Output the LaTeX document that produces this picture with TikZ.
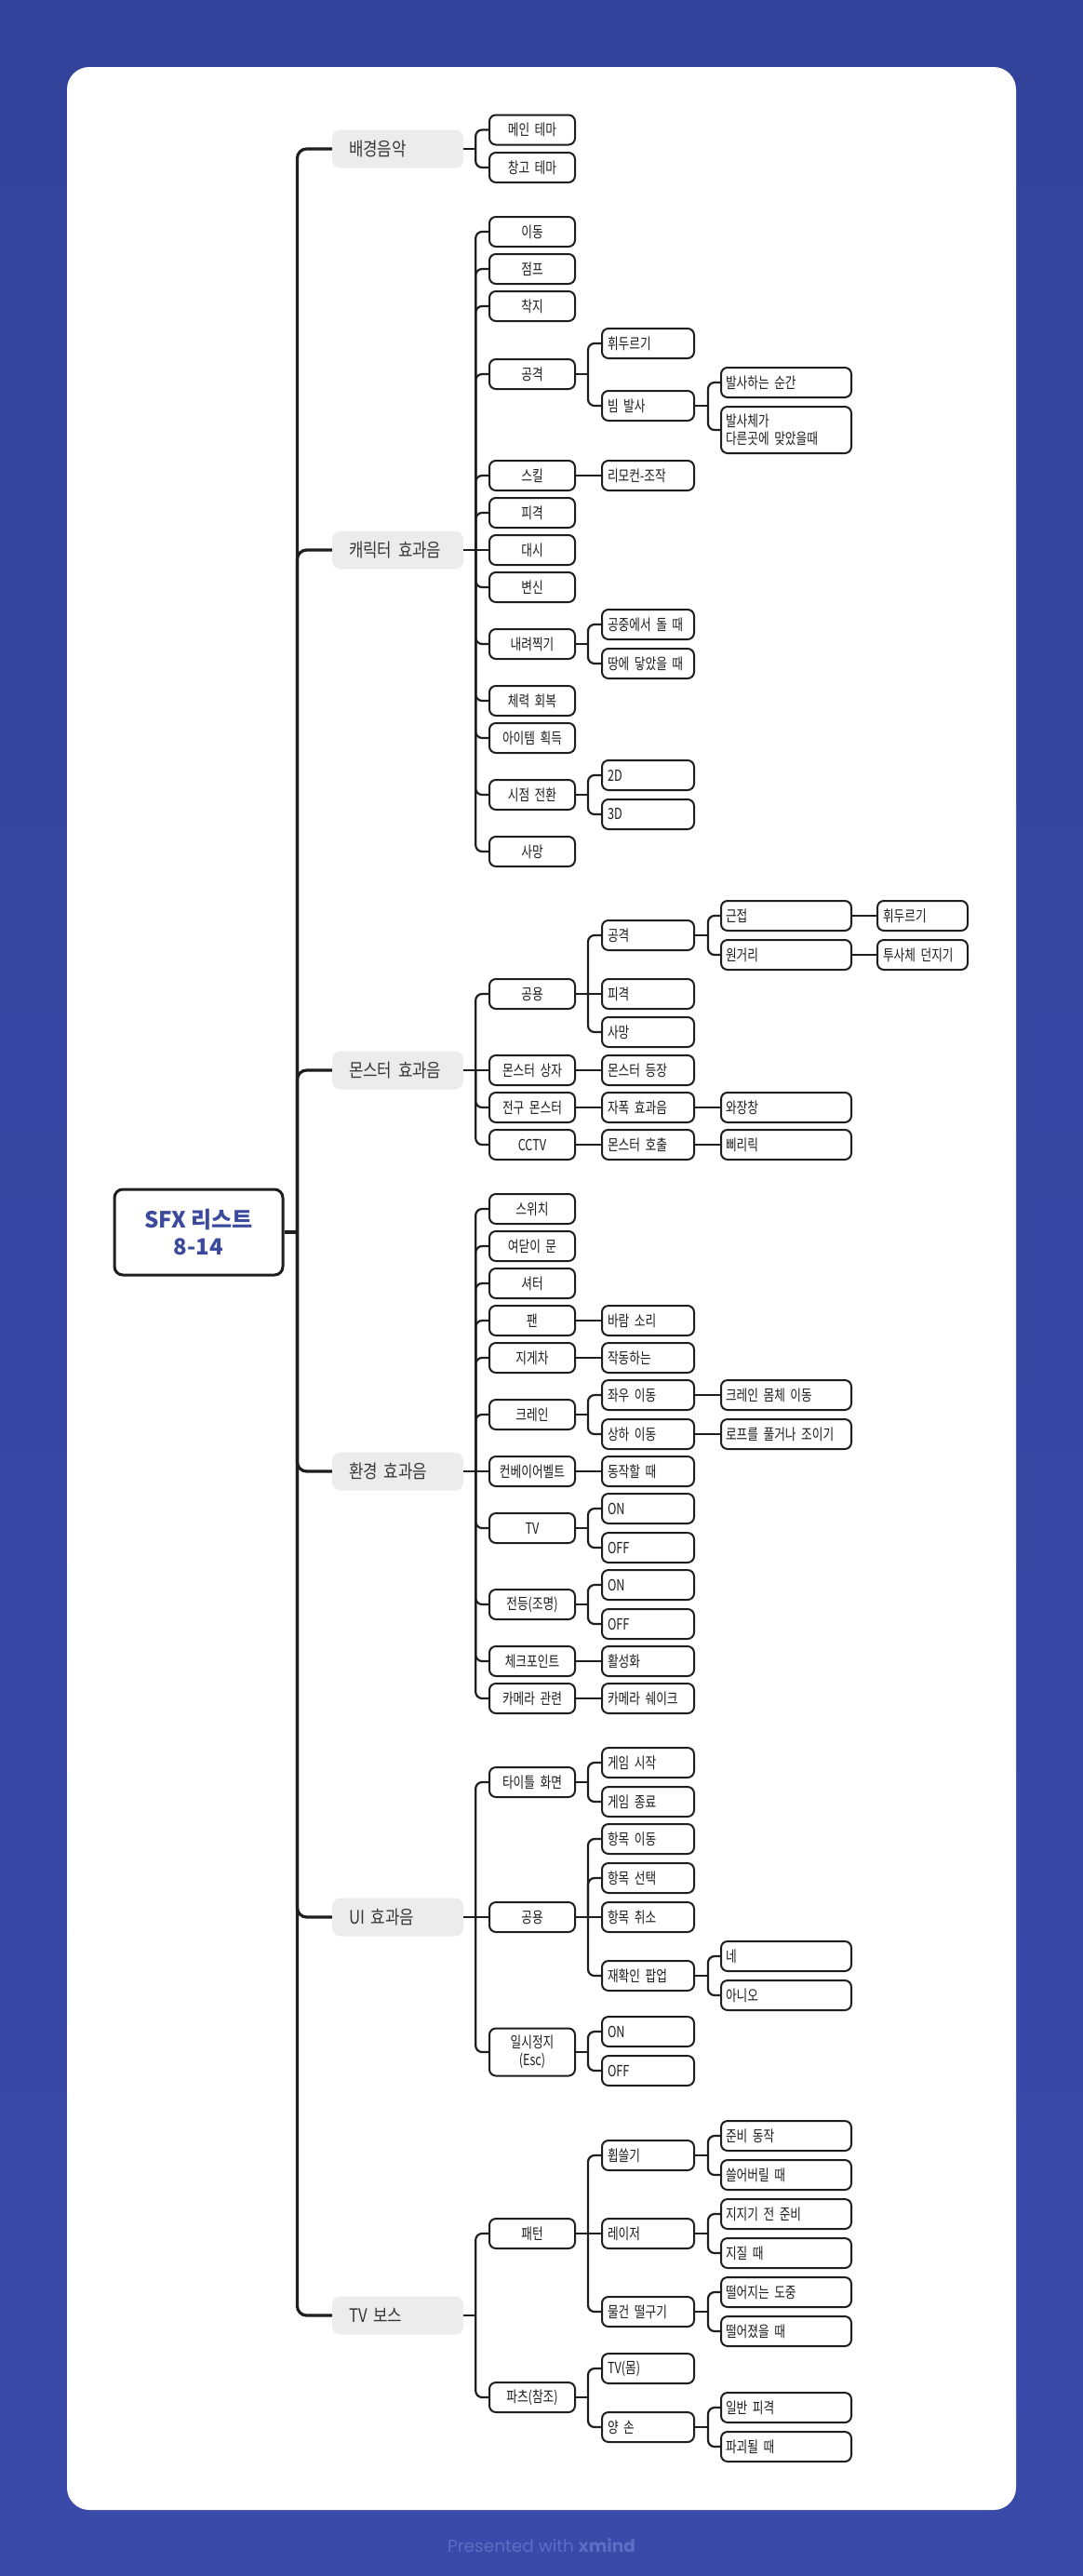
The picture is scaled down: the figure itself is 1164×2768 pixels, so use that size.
\documentclass[tikz,border=0pt]{standalone}
\usepackage{fontspec}
\setmainfont{Noto Sans CJK KR}[FakeStretch=0.77]
\newfontfamily\lonefont{Noto Sans CJK KR}[FakeStretch=0.84]
\newfontfamily\rootfont{Noto Sans CJK KR}
\newfontfamily\footfont{Poppins}
\definecolor{bgtop}{HTML}{33429B}
\definecolor{bgbot}{HTML}{3A4AA9}
\definecolor{ink}{HTML}{1E1E1E}
\definecolor{lonefill}{HTML}{ECECEC}
\definecolor{rootblue}{HTML}{3B4A9C}
\definecolor{footcol}{HTML}{5C6DC5}
\newcommand\stub[2]{\draw[conn] (#1.east) -- ++(#2,0) coordinate (#1-j);}
\newcommand\curv[2]{\foreach \ch in {#2}{\draw[conn,rounded corners=7pt] (#1-j) |- (\ch.west);}}
\newcommand\strt[2]{\draw[conn] (#1-j) -- (#2.west);}
\begin{document}
\begin{tikzpicture}[x=1pt,y=-1pt,
  bx/.style={draw=ink, line width=2pt, rounded corners=7pt, fill=white, minimum height=32pt, inner ysep=3pt, text=ink, font=\fontsize{16.5}{19}\selectfont},
  l2/.style={bx, text width=80pt, inner xsep=6pt, align=center},
  l3/.style={bx, text width=87pt, inner xsep=6pt, align=left},
  l4/.style={bx, text width=130pt, inner xsep=5pt, align=left},
  l5/.style={bx, text width=85pt, inner xsep=6pt, align=left},
  lone/.style={fill=lonefill, rounded corners=9pt, minimum height=41pt, text width=105pt, inner xsep=18pt, align=left, text=ink!88, font=\lonefont\fontsize{20}{22}\selectfont},
  rootbox/.style={draw=ink, line width=3pt, rounded corners=9pt, fill=white, minimum width=181pt, minimum height=92pt, align=center, text=rootblue, font=\rootfont\bfseries\fontsize{24}{29}\selectfont},
  conn/.style={draw=ink, line width=2.2pt},
  mainconn/.style={draw=ink, line width=3.2pt}]
\useasboundingbox (0,0) rectangle (1164,2768);
\shade[top color=bgtop, bottom color=bgbot] (0,0) rectangle (1164,2768);
\fill[white, rounded corners=24pt] (72,72) rectangle (1092,2697);
\node[font=\footfont\fontsize{18.5}{20}\selectfont, text=footcol] (foot) at (582,2735) {Presented with \textbf{xmind}};

% root
\node[rootbox] (root) at (213.5,1324) {SFX 리스트\\8-14};

% level 1
\node[lone] (a) at (427.5,160) {\mbox{배경음악}};
\node[lone] (b) at (427.5,591) {\mbox{캐릭터 효과음}};
\node[lone] (c) at (427.5,1150) {\mbox{몬스터 효과음}};
\node[lone] (d) at (427.5,1581) {\mbox{환경 효과음}};
\node[lone] (e) at (427.5,2060) {\mbox{UI 효과음}};
\node[lone] (f) at (427.5,2488) {\mbox{TV 보스}};

% A
\node[l2] (a1) at (572,139.5) {메인 테마};
\node[l2] (a2) at (572,180) {창고 테마};

% B
\node[l2] (b1) at (572,249) {이동};
\node[l2] (b2) at (572,289) {점프};
\node[l2] (b3) at (572,329) {착지};
\node[l2] (b4) at (572,402) {공격};
\node[l2] (b5) at (572,511) {스킬};
\node[l2] (b6) at (572,551) {피격};
\node[l2] (b7) at (572,591) {대시};
\node[l2] (b8) at (572,631) {변신};
\node[l2] (b9) at (572,692) {내려찍기};
\node[l2] (b10) at (572,753) {체력 회복};
\node[l2] (b11) at (572,793) {아이템 획득};
\node[l2] (b12) at (572,854) {시점 전환};
\node[l2] (b13) at (572,915) {사망};
\node[l3] (b4a) at (696.5,369) {휘두르기};
\node[l3] (b4b) at (696.5,436) {빔 발사};
\node[l3] (b5a) at (696.5,511) {리모컨-조작};
\node[l3] (b9a) at (696.5,671) {\mbox{공중에서 돌 때}};
\node[l3] (b9b) at (696.5,713) {\mbox{땅에 닿았을 때}};
\node[l3] (b12a) at (696.5,833) {2D};
\node[l3] (b12b) at (696.5,875) {3D};
\node[l4] (b4b1) at (845,411) {발사하는 순간};
\node[l4, minimum height=50pt] (b4b2) at (845,462) {발사체가\\\mbox{다른곳에 맞았을때}};

% C
\node[l2] (c1) at (572,1068) {공용};
\node[l2] (c2) at (572,1150) {몬스터 상자};
\node[l2] (c3) at (572,1190) {전구 몬스터};
\node[l2] (c4) at (572,1230) {CCTV};
\node[l3] (c1a) at (696.5,1005) {공격};
\node[l3] (c1b) at (696.5,1068) {피격};
\node[l3] (c1c) at (696.5,1109) {사망};
\node[l3] (c2a) at (696.5,1150) {몬스터 등장};
\node[l3] (c3a) at (696.5,1190) {자폭 효과음};
\node[l3] (c4a) at (696.5,1230) {몬스터 호출};
\node[l4] (c1a1) at (845,984) {근접};
\node[l4] (c1a2) at (845,1026) {원거리};
\node[l4] (c3a1) at (845,1190) {와장창};
\node[l4] (c4a1) at (845,1230) {삐리릭};
\node[l5] (c1a1x) at (991.5,984) {휘두르기};
\node[l5] (c1a2x) at (991.5,1026) {\mbox{투사체 던지기}};

% D
\node[l2] (d1) at (572,1299) {스위치};
\node[l2] (d2) at (572,1339) {여닫이 문};
\node[l2] (d3) at (572,1379) {셔터};
\node[l2] (d4) at (572,1419) {팬};
\node[l2] (d5) at (572,1459) {지게차};
\node[l2] (d6) at (572,1520) {크레인};
\node[l2] (d7) at (572,1581) {\mbox{컨베이어벨트}};
\node[l2] (d8) at (572,1642) {TV};
\node[l2] (d9) at (572,1724) {전등(조명)};
\node[l2] (d10) at (572,1785) {체크포인트};
\node[l2] (d11) at (572,1825) {카메라 관련};
\node[l3] (d4a) at (696.5,1419) {바람 소리};
\node[l3] (d5a) at (696.5,1459) {작동하는};
\node[l3] (d6a) at (696.5,1499) {좌우 이동};
\node[l3] (d6b) at (696.5,1541) {상하 이동};
\node[l3] (d7a) at (696.5,1581) {동작할 때};
\node[l3] (d8a) at (696.5,1621) {ON};
\node[l3] (d8b) at (696.5,1663) {OFF};
\node[l3] (d9a) at (696.5,1703) {ON};
\node[l3] (d9b) at (696.5,1745) {OFF};
\node[l3] (d10a) at (696.5,1785) {활성화};
\node[l3] (d11a) at (696.5,1825) {\mbox{카메라 쉐이크}};
\node[l4] (d6a1) at (845,1499) {크레인 몸체 이동};
\node[l4] (d6b1) at (845,1541) {\mbox{로프를 풀거나 조이기}};

% E
\node[l2] (e1) at (572,1915) {타이틀 화면};
\node[l2] (e2) at (572,2060) {공용};
\node[l2, minimum height=51pt] (e3) at (572,2205) {일시정지\\(Esc)};
\node[l3] (e1a) at (696.5,1894) {게임 시작};
\node[l3] (e1b) at (696.5,1936) {게임 종료};
\node[l3] (e2a) at (696.5,1976) {항목 이동};
\node[l3] (e2b) at (696.5,2018) {항목 선택};
\node[l3] (e2c) at (696.5,2060) {항목 취소};
\node[l3] (e2d) at (696.5,2123) {재확인 팝업};
\node[l3] (e3a) at (696.5,2183) {ON};
\node[l3] (e3b) at (696.5,2225) {OFF};
\node[l4] (e2d1) at (845,2102) {네};
\node[l4] (e2d2) at (845,2144) {아니오};

% F
\node[l2] (f1) at (572,2400) {패턴};
\node[l2] (f2) at (572,2576) {파츠(참조)};
\node[l3] (f1a) at (696.5,2316) {휩쓸기};
\node[l3] (f1b) at (696.5,2400) {레이저};
\node[l3] (f1c) at (696.5,2484) {물건 떨구기};
\node[l3] (f2a) at (696.5,2545) {TV(몸)};
\node[l3] (f2b) at (696.5,2608) {양 손};
\node[l4] (f1a1) at (845,2295) {준비 동작};
\node[l4] (f1a2) at (845,2337) {쓸어버릴 때};
\node[l4] (f1b1) at (845,2379) {지지기 전 준비};
\node[l4] (f1b2) at (845,2421) {지질 때};
\node[l4] (f1c1) at (845,2463) {떨어지는 도중};
\node[l4] (f1c2) at (845,2505) {떨어졌을 때};
\node[l4] (f2b1) at (845,2587) {일반 피격};
\node[l4] (f2b2) at (845,2629) {파괴될 때};

% main connectors
\draw[mainconn] (root.east) -- ++(14,0) coordinate (root-j);
\foreach \ch in {a,b,c,d,e,f}{\draw[mainconn,rounded corners=10pt] (root-j) |- (\ch.west);}

% sub connectors
\stub{a}{13}\curv{a}{a1,a2}
\stub{b}{13}\curv{b}{b1,b2,b3,b4,b5,b6,b8,b9,b10,b11,b12,b13}\strt{b}{b7}
\stub{b4}{13}\curv{b4}{b4a,b4b}
\stub{b5}{13}\strt{b5}{b5a}
\stub{b9}{13}\curv{b9}{b9a,b9b}
\stub{b12}{13}\curv{b12}{b12a,b12b}
\stub{b4b}{14}\curv{b4b}{b4b1,b4b2}
\stub{c}{13}\curv{c}{c1,c3,c4}\strt{c}{c2}
\stub{c1}{13}\curv{c1}{c1a,c1c}\strt{c1}{c1b}
\stub{c2}{13}\strt{c2}{c2a}
\stub{c3}{13}\strt{c3}{c3a}
\stub{c4}{13}\strt{c4}{c4a}
\stub{c1a}{14}\curv{c1a}{c1a1,c1a2}
\stub{c3a}{14}\strt{c3a}{c3a1}
\stub{c4a}{14}\strt{c4a}{c4a1}
\stub{c1a1}{14}\strt{c1a1}{c1a1x}
\stub{c1a2}{14}\strt{c1a2}{c1a2x}
\stub{d}{13}\curv{d}{d1,d2,d3,d4,d5,d6,d8,d9,d10,d11}\strt{d}{d7}
\stub{d4}{13}\strt{d4}{d4a}
\stub{d5}{13}\strt{d5}{d5a}
\stub{d6}{13}\curv{d6}{d6a,d6b}
\stub{d7}{13}\strt{d7}{d7a}
\stub{d8}{13}\curv{d8}{d8a,d8b}
\stub{d9}{13}\curv{d9}{d9a,d9b}
\stub{d10}{13}\strt{d10}{d10a}
\stub{d11}{13}\strt{d11}{d11a}
\stub{d6a}{14}\strt{d6a}{d6a1}
\stub{d6b}{14}\strt{d6b}{d6b1}
\stub{e}{13}\curv{e}{e1,e3}\strt{e}{e2}
\stub{e1}{13}\curv{e1}{e1a,e1b}
\stub{e2}{13}\curv{e2}{e2a,e2b,e2d}\strt{e2}{e2c}
\stub{e3}{13}\curv{e3}{e3a,e3b}
\stub{e2d}{14}\curv{e2d}{e2d1,e2d2}
\stub{f}{13}\curv{f}{f1,f2}
\stub{f1}{13}\curv{f1}{f1a,f1c}\strt{f1}{f1b}
\stub{f2}{13}\curv{f2}{f2a,f2b}
\stub{f1a}{14}\curv{f1a}{f1a1,f1a2}
\stub{f1b}{14}\curv{f1b}{f1b1,f1b2}
\stub{f1c}{14}\curv{f1c}{f1c1,f1c2}
\stub{f2b}{14}\curv{f2b}{f2b1,f2b2}
\end{tikzpicture}
\end{document}
